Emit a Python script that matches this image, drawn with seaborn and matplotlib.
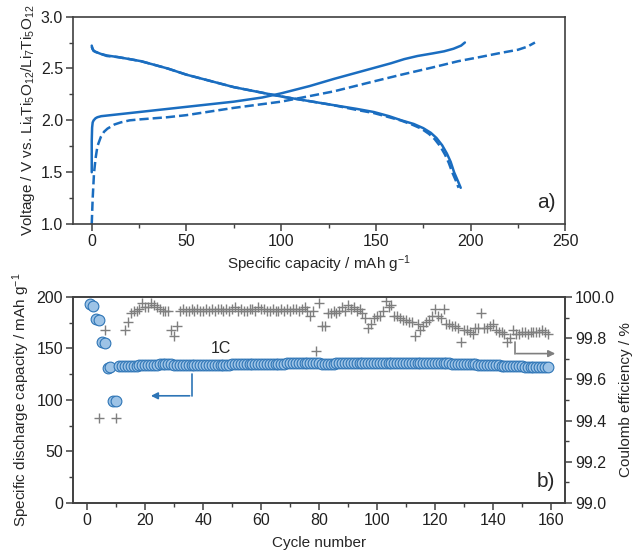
import numpy as np
import pandas as pd
import matplotlib
matplotlib.use("Agg")
import matplotlib.pyplot as plt
import seaborn as sns
from matplotlib.ticker import MultipleLocator

sns.set_theme(style="ticks")
plt.rcParams["font.family"] = ["Liberation Sans", "DejaVu Sans"]
plt.rcParams["mathtext.fontset"] = "custom"
plt.rcParams["mathtext.rm"] = "Liberation Sans"
plt.rcParams["mathtext.it"] = "Liberation Sans"

# --- panel a) voltage profiles ---
charge_cap = [0, 0, 0.2, 0.5, 1, 2, 3, 5, 10, 15, 25, 40, 50, 65, 75, 90, 100, 115, 128,
              140, 150, 158, 165, 172, 180, 186, 191, 195, 197]
charge_v = [1.50, 1.80, 1.93, 1.98, 2.00, 2.02, 2.03, 2.04, 2.05, 2.06, 2.08, 2.11, 2.13,
            2.16, 2.18, 2.22, 2.26, 2.33, 2.40, 2.46, 2.51, 2.55, 2.59, 2.62, 2.645, 2.665,
            2.69, 2.72, 2.75]
charge2_cap = [0, 0.5, 1.2, 2, 3, 4.8, 6.5, 8.3, 12, 15.3, 20, 26, 40, 50, 75, 100, 128,
               150, 163.5, 180, 193.5, 205, 216, 225, 230, 234]
charge2_v = [1.00, 1.25, 1.49, 1.63, 1.75, 1.84, 1.89, 1.92, 1.96, 1.98, 2.00, 2.01, 2.03,
             2.05, 2.12, 2.18, 2.28, 2.38, 2.44, 2.51, 2.57, 2.61, 2.65, 2.68, 2.71, 2.75]
dis_cap = [0, 0.3, 1, 2, 4.8, 8, 13.6, 20, 26, 40, 50, 75, 100, 110, 126.5, 140, 149, 157,
           163.5, 170, 175, 179, 182, 185, 187.5, 189.5, 191.3, 193.2, 194.8]
dis_v = [2.72, 2.69, 2.67, 2.66, 2.64, 2.625, 2.61, 2.59, 2.57, 2.50, 2.44, 2.32, 2.23,
         2.20, 2.15, 2.11, 2.08, 2.04, 2.00, 1.965, 1.925, 1.88, 1.83, 1.76, 1.68, 1.60,
         1.50, 1.42, 1.35]
dis2_cap = [0, 1, 2, 4.8, 8, 13.6, 20, 26, 40, 50, 75, 100, 110, 126.5, 140, 149, 157, 163,
            169, 174, 178, 181, 184, 186.5, 188.5, 190.3, 192.2, 193.7]
dis2_v = [2.71, 2.67, 2.66, 2.64, 2.62, 2.61, 2.59, 2.57, 2.50, 2.44, 2.32, 2.23, 2.20,
          2.15, 2.10, 2.07, 2.03, 2.00, 1.96, 1.92, 1.87, 1.82, 1.75, 1.67, 1.59, 1.50,
          1.42, 1.35]

# --- panel b) cycling ---
capacity = [193, 191, 179, 178, 156, 155, 131, 132, 99, 99,
            133.0, 133.0, 133.0, 133.1, 133.2, 133.3, 133.4, 133.6, 133.8, 134.0,
            134.1, 134.2, 134.3, 134.4, 134.5, 134.5, 134.6, 134.6, 134.5, 134.4,
            134.3, 134.2, 134.2, 134.2, 134.2, 134.2, 134.2, 134.2, 134.2, 134.2,
            134.2, 134.2, 134.3, 134.3, 134.3, 134.4, 134.4, 134.4, 134.4, 134.5,
            134.5, 134.5, 134.6, 134.6, 134.6, 134.7, 134.7, 134.7, 134.8, 134.8,
            134.8, 134.9, 134.9, 135.0, 135.0, 135.1, 135.2, 135.3, 135.4, 135.5,
            135.6, 135.7, 135.8, 135.8, 135.8, 135.8, 135.7, 135.6, 135.5, 135.4,
            135.3, 135.2, 135.2, 135.2, 135.3, 135.4, 135.5, 135.6, 135.6, 135.7,
            135.7, 135.8, 135.8, 135.9, 135.9, 136.2, 135.6, 135.9, 135.9, 136.0,
            136.0, 136.0, 136.1, 136.1, 136.1, 136.2, 136.2, 136.2, 136.2, 136.2,
            136.1, 136.1, 136.0, 136.0, 135.9, 135.9, 135.8, 135.8, 135.7, 135.7,
            135.6, 135.6, 135.5, 135.5, 135.4, 135.3, 135.2, 135.1, 135.0, 134.9,
            134.8, 134.7, 134.6, 134.5, 134.4, 134.3, 134.2, 134.1, 134.0, 133.9,
            133.7, 133.6, 133.4, 133.3, 133.2, 133.0, 132.9, 132.7, 132.6, 132.5,
            132.3, 132.2, 132.1, 132.0, 131.9, 131.8, 131.7, 131.6, 131.5]
nan = np.nan
efficiency = [nan, nan, nan, 99.41, nan, 99.84, nan, nan, nan, 99.41,
              nan, nan, 99.84, 99.88, 99.92, 99.93, 99.93, 99.94, 99.97, 99.95,
              99.95, 99.97, 99.96, 99.95, 99.94, 99.93, 99.93, 99.93, 99.84, 99.81,
              99.86, 99.93, 99.94, 99.93, 99.93, 99.94, 99.93, 99.94, 99.93, 99.93,
              99.94, 99.93, 99.94, 99.93, 99.94, 99.94, 99.93, 99.94, 99.93, 99.94,
              99.95, 99.93, 99.94, 99.93, 99.93, 99.94, 99.94, 99.93, 99.95, 99.94,
              99.94, 99.93, 99.93, 99.94, 99.93, 99.93, 99.94, 99.93, 99.94, 99.93,
              99.94, 99.94, 99.93, 99.94, 99.95, 99.93, 99.91, 99.93, 99.74, 99.97,
              99.86, 99.86, 99.92, 99.92, 99.93, 99.92, 99.93, 99.95, 99.93, 99.96,
              99.94, 99.95, 99.93, 99.94, 99.92, 99.90, 99.85, 99.87, 99.90, 99.91,
              99.91, 99.93, 99.98, 99.95, 99.96, 99.91, 99.91, 99.90, 99.89, 99.89,
              99.88, 99.88, 99.81, 99.87, 99.84, 99.86, 99.88, 99.89, 99.91, 99.94,
              99.91, 99.90, 99.94, 99.87, 99.87, 99.86, 99.86, 99.85, 99.78, 99.84,
              99.84, 99.83, 99.82, 99.85, 99.85, 99.92, 99.85, 99.85, 99.86, 99.87,
              99.84, 99.83, 99.83, 99.82, 99.78, 99.80, 99.84, 99.82, 99.82, 99.83,
              99.83, 99.82, 99.83, 99.83, 99.83, 99.83, 99.84, 99.83, 99.82]
cycles = list(range(1, len(capacity) + 1))

blue = "#1a6dc0"
fill_blue = "#9dc3e6"
edge_blue = "#2e75b6"
grey = "#7f7f7f"
spine_c = "#404040"

fig = plt.figure(figsize=(6.33, 5.52), dpi=100)
ax1 = fig.add_axes([0.115, 0.594, 0.778, 0.376])
ax2 = fig.add_axes([0.115, 0.089, 0.778, 0.373])

for cap, v, ls in [(charge_cap, charge_v, "-"), (charge2_cap, charge2_v, "--"),
                   (dis_cap, dis_v, "-"), (dis2_cap, dis2_v, "--")]:
    sns.lineplot(x=cap, y=v, sort=False, ax=ax1, color=blue, linewidth=1.8,
                 linestyle=ls, estimator=None)

ax1.set_xlim(-10, 250)
ax1.set_ylim(1.0, 3.0)
ax1.xaxis.set_major_locator(MultipleLocator(50))
ax1.xaxis.set_minor_locator(MultipleLocator(25))
ax1.yaxis.set_major_locator(MultipleLocator(0.5))
ax1.yaxis.set_minor_locator(MultipleLocator(0.25))
ax1.yaxis.set_major_formatter(matplotlib.ticker.FormatStrFormatter("%.1f"))
ax1.set_xlabel(r"Specific capacity / mAh g$^{-1}$", fontsize=11, labelpad=3)
ax1.set_ylabel(r"Voltage / V vs. Li$_4$Ti$_5$O$_{12}$/Li$_7$Ti$_5$O$_{12}$", fontsize=11,
               labelpad=3)
ax1.text(0.98, 0.06, "a)", transform=ax1.transAxes, fontsize=15, ha="right", va="bottom")

# panel b
df = pd.DataFrame({"cycle": cycles, "capacity": capacity, "ce": efficiency})
ax3 = ax2.twinx()
sns.scatterplot(data=df, x="cycle", y="ce", ax=ax3, marker="+", s=45, color=grey,
                linewidth=1.0, zorder=2)
sns.scatterplot(data=df, x="cycle", y="capacity", ax=ax2, marker="o", s=60,
                facecolor=fill_blue, edgecolor=edge_blue, linewidth=0.8, zorder=3)
ax2.set_zorder(ax3.get_zorder() + 1)
ax2.patch.set_visible(False)

ax2.set_xlim(-5, 165)
ax2.set_ylim(0, 200)
ax3.set_ylim(99.0, 100.0)
ax2.xaxis.set_major_locator(MultipleLocator(20))
ax2.xaxis.set_minor_locator(MultipleLocator(10))
ax2.yaxis.set_major_locator(MultipleLocator(50))
ax2.yaxis.set_minor_locator(MultipleLocator(25))
ax3.yaxis.set_major_locator(MultipleLocator(0.2))
ax3.yaxis.set_minor_locator(MultipleLocator(0.1))
ax3.yaxis.set_major_formatter(matplotlib.ticker.FormatStrFormatter("%.1f"))
ax2.set_xlabel("Cycle number", fontsize=11, labelpad=6)
ax2.set_ylabel(r"Specific discharge capacity / mAh g$^{-1}$", fontsize=11, labelpad=3)
ax3.set_ylabel("Coulomb efficiency / %", fontsize=11, labelpad=3)
ax2.text(0.98, 0.06, "b)", transform=ax2.transAxes, fontsize=15, ha="right", va="bottom")
ax2.text(46, 150, "1C", fontsize=11.5, ha="center", va="center")

# axis arrows
ax2.plot([36, 36], [125, 104], color=edge_blue, lw=1.2)
ax2.annotate("", xy=(21, 104), xytext=(36.3, 104),
             arrowprops=dict(arrowstyle="-|>", color=edge_blue, lw=1.2, mutation_scale=10))
ax3.plot([147.5, 147.5], [99.78, 99.725], color=grey, lw=1.2)
ax3.annotate("", xy=(162.5, 99.725), xytext=(147.2, 99.725),
             arrowprops=dict(arrowstyle="-|>", color=grey, lw=1.2, mutation_scale=10))

for ax in (ax1, ax2, ax3):
    for sp in ax.spines.values():
        sp.set_visible(True)
        sp.set_color(spine_c)
        sp.set_linewidth(1.2)
    ax.tick_params(which="major", direction="out", length=5, width=1.1, color=spine_c,
                   labelsize=11.5, labelcolor="#202020", pad=2)
    ax.tick_params(which="minor", direction="out", length=3, width=1.0, color=spine_c)
ax1.tick_params(which="both", top=False, right=False)
ax2.tick_params(which="both", top=False, right=False)
ax3.tick_params(which="both", left=False, right=True)

fig.savefig("out.png", dpi=100)
